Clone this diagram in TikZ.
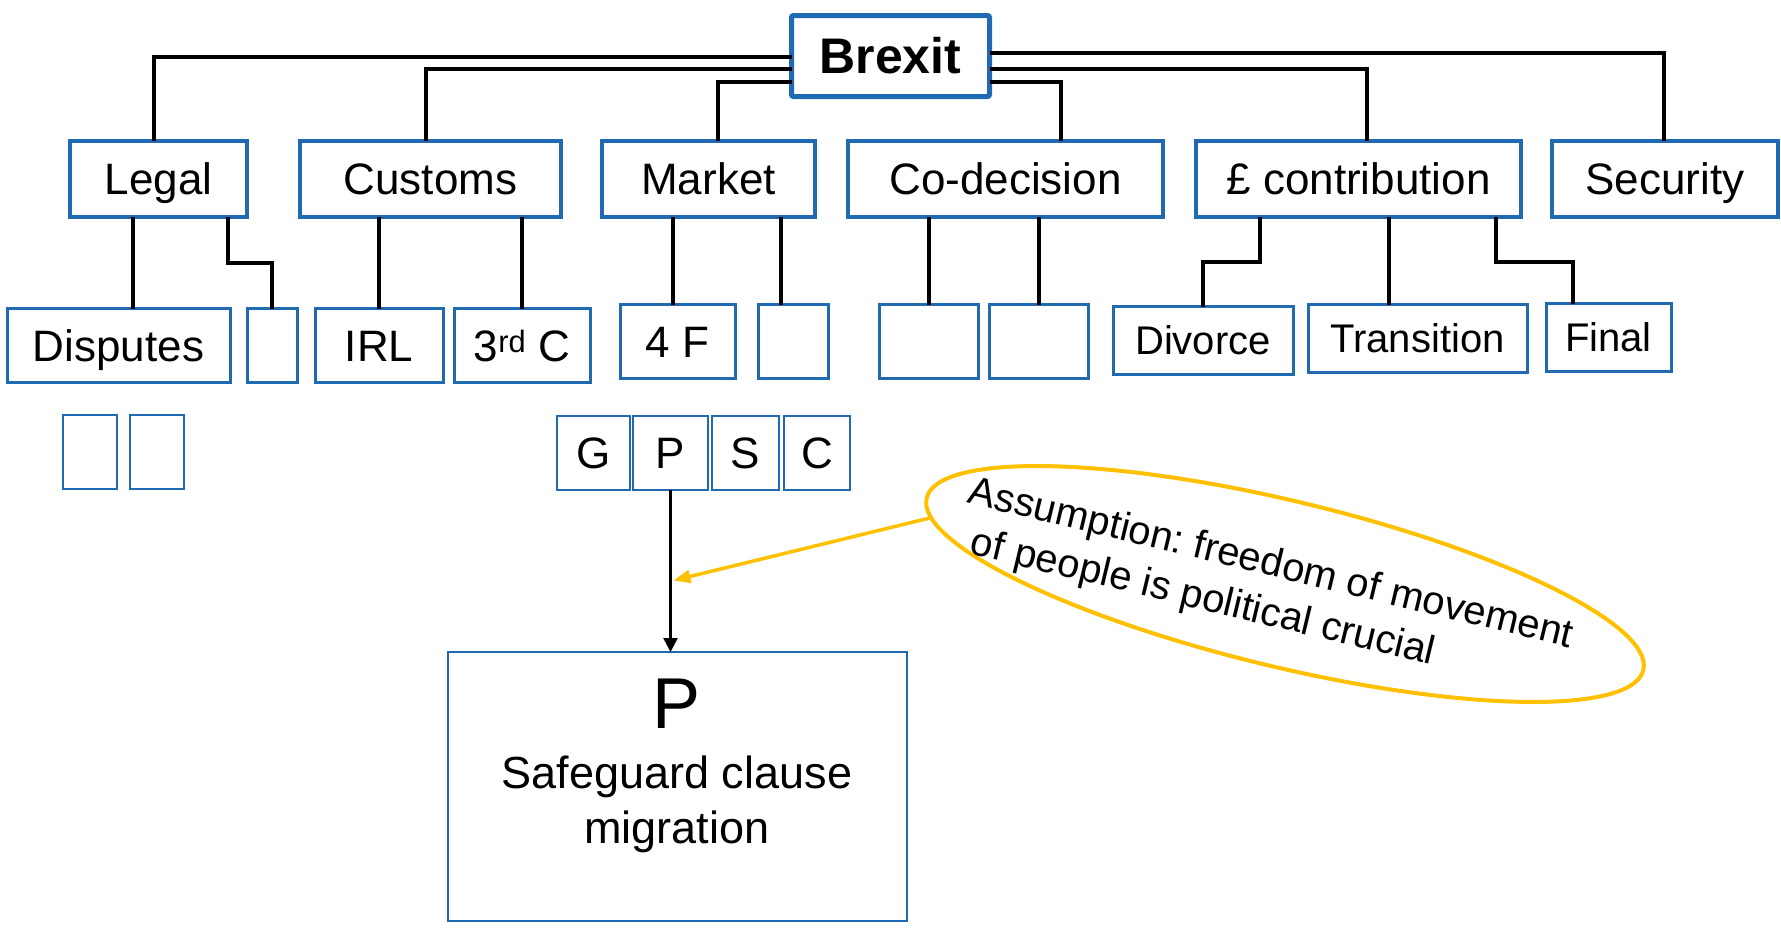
\documentclass[tikz,border=0pt]{standalone}
\usepackage{fontspec}
\setmainfont{Liberation Sans}
\usepackage{xcolor}
\usepackage{tikz}
\usetikzlibrary{shapes.geometric, arrows.meta, positioning}
\frenchspacing
\definecolor{boxblue}{RGB}{31,106,178}
\definecolor{noteyellow}{RGB}{255,192,0}
\tikzstyle{rootbox} = [rectangle, rounded corners=2pt, minimum width=198pt,
           minimum height=81pt, inner sep=0pt, outer sep=0pt, text centered,
           draw=boxblue, line width=5pt, font=\fontsize{50}{60}\selectfont\bfseries,
           text height=35.8pt, text depth=0pt]
\tikzstyle{topbox} = [rectangle, minimum height=76pt, inner sep=0pt, outer sep=0pt,
           text centered, draw=boxblue, line width=4pt,
           font=\fontsize{44}{53}\selectfont, text height=31.5pt, text depth=0pt]
\tikzstyle{subbox} = [rectangle, minimum height=74pt, inner sep=0pt, outer sep=0pt,
           text centered, draw=boxblue, line width=3pt,
           font=\fontsize{44}{53}\selectfont, text height=31.5pt, text depth=0pt]
\tikzstyle{paybox} = [subbox, minimum height=68pt,
           font=\fontsize{40}{48}\selectfont, text height=28.6pt]
\tikzstyle{leafbox} = [rectangle, minimum height=74pt, inner sep=0pt, outer sep=0pt,
           text centered, draw=boxblue, line width=2pt,
           font=\fontsize{44}{53}\selectfont, text height=31.5pt, text depth=0pt]
\tikzstyle{link} = [line width=4pt]
\tikzstyle{pointer} = [line width=2.5pt, -{Triangle[length=14pt,width=14pt]}]
\tikzstyle{hint} = [noteyellow, line width=3.5pt, -{Triangle[length=17pt,width=13pt]}]

\begin{document}
\begin{tikzpicture}[x=1pt, y=-1pt]
\fill [white] (0,0) rectangle (1781,929);
\useasboundingbox (0,0) rectangle (1781,929);
% top level
\node (brexit) [rootbox] at (890.5,56) {Brexit};
\node (legal) [topbox, minimum width=177pt] at (158.5,179) {Legal};
\node (customs) [topbox, minimum width=261pt, right=53pt of legal] {Customs};
\node (market) [topbox, minimum width=213pt, right=41pt of customs] {Market};
\node (codec) [topbox, minimum width=315pt, right=33pt of market] {Co-decision};
\node (contrib) [topbox, minimum width=325pt, right=33pt of codec] {£ contribution};
\node (security) [topbox, minimum width=226pt, right=31pt of contrib] {Security};
% second level
\node (disputes) [subbox, minimum width=223pt] at (118.5,345.5) {Disputes};
\node (legal2) [subbox, minimum width=50pt, right=17pt of disputes] {};
\node (irl) [subbox, minimum width=128pt, right=18pt of legal2] {IRL};
\node (third) [subbox, minimum width=136pt, right=11pt of irl] {3\textsuperscript{rd} C};
\node (fourf) [subbox, minimum width=115pt, right=30pt of third, yshift=4pt] {4 F};
\node (market2) [subbox, minimum width=70pt, right=23pt of fourf] {};
\node (codec1) [subbox, minimum width=99pt, right=51pt of market2] {};
\node (codec2) [subbox, minimum width=99pt, right=11pt of codec1] {};
\node (divorce) [paybox, minimum width=180pt, right=25pt of codec2, yshift=1pt] {Divorce};
\node (transition) [paybox, minimum width=219pt, right=15pt of divorce, yshift=2pt] {Transition};
\node (final) [paybox, minimum width=125pt, right=19pt of transition, yshift=1pt] {Final};
% third level
\node (legalA) [leafbox, minimum width=54pt] at (90,451.5) {};
\node (legalB) [leafbox, minimum width=54pt, right=13pt of legalA] {};
\node (goods) [leafbox, minimum width=73pt] at (593.5,452.5) {G};
\node (people) [leafbox, minimum width=75pt, right=3pt of goods] {P};
\node (services) [leafbox, minimum width=67pt, right=4pt of people] {S};
\node (capital) [leafbox, minimum width=66pt, right=5pt of services] {C};
\node (bigp) [leafbox, minimum width=459pt, minimum height=269pt] at (677,786.5) {};
\node (bigptext) [align=center, anchor=north, inner sep=0pt,
      font=\fontsize{45}{55}\selectfont] at (bigp.north |- 0,679)
   {{\fontsize{72}{72}\selectfont P}\\[5pt] Safeguard clause\\ migration};
% assumption
\node (note) [ellipse, draw=noteyellow, line width=4pt, minimum width=737pt,
      minimum height=166pt, inner sep=0pt, rotate=-13.5] at (1285,584) {};
\node (notetext) [rotate=-13.5, align=left, inner sep=0pt,
      font=\fontsize{40}{49}\selectfont] at ([shift={(-20,5)}]note.center)
   {Assumption: freedom of movement\\\hspace*{14pt}of people is political crucial};
\coordinate (migr) at ([xshift=3pt, yshift=-91pt]people.south);
% first level links
\draw [link] ([yshift=-1pt]brexit.west) -| ([xshift=-4.5pt]legal.north);
\draw [link] ([yshift=-13pt]brexit.west) -| ([xshift=-4.5pt]customs.north);
\draw [link] ([yshift=-26pt]brexit.west) -| ([xshift=9.5pt]market.north);
\draw [link] ([yshift=-26pt]brexit.east) -| ([xshift=55.5pt]codec.north);
\draw [link] ([yshift=-13pt]brexit.east) -| ([xshift=8.5pt]contrib.north);
\draw [link] ([yshift=3pt]brexit.east) -| ([xshift=-1pt]security.north);
% second level links
\draw [link] ([xshift=-25.5pt]legal.south) -- ([xshift=-25.5pt]legal.south |- disputes.north);
\draw [link] ([xshift=69.5pt]legal.south) -- ++(0,46) -| (legal2.north);
\draw [link] (customs.south -| irl.north) -- (irl.north);
\draw [link] (customs.south -| third.north) -- (third.north);
\draw [link] ([xshift=-4.5pt]fourf.north |- market.south) -- ([xshift=-4.5pt]fourf.north);
\draw [link] ([xshift=-12pt]market2.north |- market.south) -- ([xshift=-12pt]market2.north);
\draw [link] (codec.south -| codec1.north) -- (codec1.north);
\draw [link] (codec.south -| codec2.north) -- (codec2.north);
\draw [link] ([xshift=-98.5pt]contrib.south) -- ++(0,45) -| (divorce.north);
\draw [link] ([xshift=-28.5pt]transition.north |- contrib.south) -- ([xshift=-28.5pt]transition.north);
\draw [link] ([xshift=137.5pt]contrib.south) -- ++(0,45) -| ([xshift=-35.5pt]final.north);
% migration
\draw [pointer] (people.south) -- (people.south |- bigp.north);
\draw [hint] (note.183) -- (migr);
\end{tikzpicture}
\end{document}
